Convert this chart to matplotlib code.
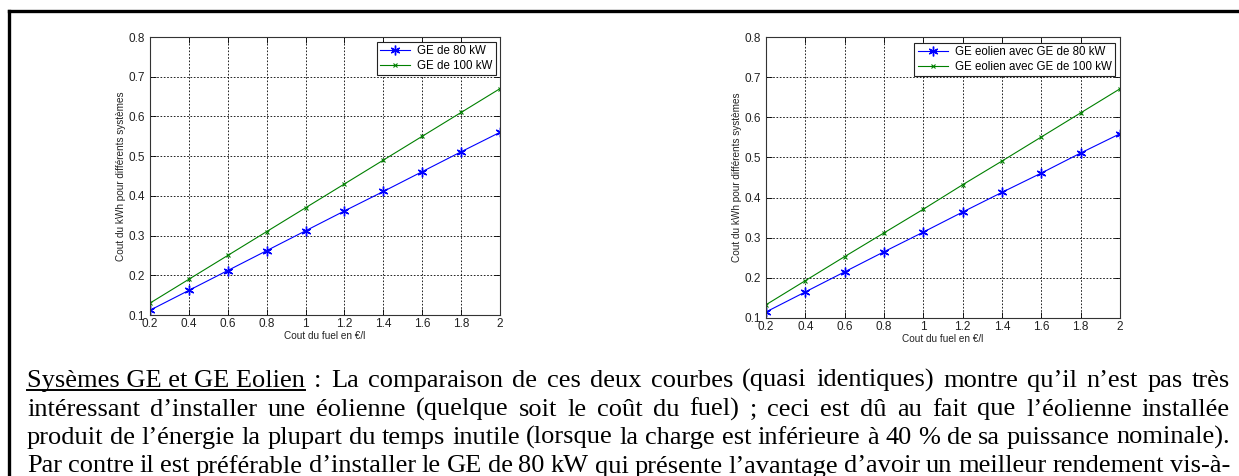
import matplotlib
matplotlib.use("Agg")
import matplotlib.pyplot as plt
from matplotlib.lines import Line2D

# ---- data -------------------------------------------------------------
fuel_cost = [0.2, 0.4, 0.6, 0.8, 1.0, 1.2, 1.4, 1.6, 1.8, 2.0]

ge_80 = [0.112, 0.162, 0.212, 0.262, 0.312, 0.362, 0.411, 0.461, 0.511, 0.560]
ge_100 = [0.130, 0.190, 0.250, 0.310, 0.370, 0.430, 0.490, 0.550, 0.610, 0.670]

eol_80 = [0.115, 0.165, 0.215, 0.265, 0.314, 0.364, 0.413, 0.461, 0.511, 0.559]
eol_100 = [0.133, 0.193, 0.253, 0.312, 0.371, 0.432, 0.491, 0.551, 0.611, 0.671]

x_ticks = [0.2, 0.4, 0.6, 0.8, 1, 1.2, 1.4, 1.6, 1.8, 2]
x_ticklabels = ["0.2", "0.4", "0.6", "0.8", "1", "1.2", "1.4", "1.6", "1.8", "2"]
y_ticks = [0.1, 0.2, 0.3, 0.4, 0.5, 0.6, 0.7, 0.8]
y_ticklabels = ["0.1", "0.2", "0.3", "0.4", "0.5", "0.6", "0.7", "0.8"]

left_labels = ["GE de 80 kW", "GE de 100 kW"]
right_labels = ["GE eolien avec GE de 80 kW", "GE eolien avec GE de 100 kW"]

x_title = "Cout du fuel en €/l"
y_title = "Cout du kWh pour différents systèmes"

para_head = "Sysèmes GE et GE Eolien"
para_lines = [
    ": La comparaison de ces deux courbes (quasi identiques) montre qu’il n’est pas très",
    "intéressant d’installer une éolienne (quelque soit le coût du fuel) ; ceci est dû au fait que l’éolienne installée",
    "produit de l’énergie la plupart du temps inutile (lorsque la charge est inférieure à 40 % de sa puissance nominale).",
    "Par contre il est préférable d’installer le GE de 80 kW qui présente l’avantage d’avoir un meilleur rendement vis-à-",
]

# ---- figure -------------------------------------------------------------
W, H = 1239, 476
DPI = 100
fig = plt.figure(figsize=(W / DPI, H / DPI), dpi=DPI)
fig.patch.set_facecolor("white")

BLUE = (0, 0, 1)
GREEN = (0, 0.5, 0)
SANS = ["Liberation Sans", "DejaVu Sans"]
SERIF = ["Liberation Serif", "DejaVu Serif"]
ASTERISK = (6, 2, 0)


def px_rect(x0, y0, x1, y1):
    return [x0 / W, 1 - y1 / H, (x1 - x0) / W, (y1 - y0) / H]


def make_panel(rect, s80, s100, labels, leg_box):
    ax = fig.add_axes(rect)
    ax.plot(fuel_cost, s80, color=BLUE, lw=0.8, marker=ASTERISK, ms=7,
            mew=1.0, label=labels[0])
    ax.plot(fuel_cost, s100, color=GREEN, lw=0.8, marker="x", ms=3.5,
            mew=0.8, label=labels[1])
    ax.set_xlim(0.2, 2)
    ax.set_ylim(0.1, 0.8)
    ax.set_xticks(x_ticks)
    ax.set_xticklabels(x_ticklabels, family=SANS, fontsize=8.5, color="#222222")
    ax.set_yticks(y_ticks)
    ax.set_yticklabels(y_ticklabels, family=SANS, fontsize=8.5, color="#222222")
    ax.tick_params(direction="in", length=4, width=0.6, top=True, right=True)
    ax.tick_params(axis="x", pad=2.5)
    ax.tick_params(axis="y", pad=3.5)
    ax.grid(True, color="black", linestyle=(0, (2, 2)), linewidth=0.6)
    for sp in ax.spines.values():
        sp.set_linewidth(0.8)
        sp.set_color("#333333")
    ax.set_axisbelow(True)

    hpx = rect[3] * H
    wpx = rect[2] * W
    ax.set_xlabel(x_title, family=SANS, fontsize=7.2, va="center",
                  color="#222222")
    ax.xaxis.set_label_coords(0.5, -21 / hpx)
    ax.set_ylabel(y_title, family=SANS, fontsize=7.2, va="center",
                  color="#222222")
    ax.yaxis.set_label_coords(-29 / wpx, 0.5)

    lx0, ly0, lx1, ly1 = leg_box
    ax_x0 = rect[0] * W
    ax_top = (1 - rect[1] - rect[3]) * H
    anchor = ((lx1 - ax_x0) / wpx, 1 - (ly0 - ax_top) / hpx)
    leg = ax.legend(loc="upper right", bbox_to_anchor=anchor,
                    borderaxespad=0, fancybox=False, framealpha=1,
                    edgecolor="#222222", numpoints=1, handlelength=2.6,
                    handletextpad=0.6, borderpad=0.3, labelspacing=0.2,
                    prop={"family": SANS, "size": 8.3})
    leg.get_frame().set_linewidth(0.8)
    return ax


make_panel(px_rect(150, 37, 500, 315), ge_80, ge_100, left_labels,
           (387, 42, 496, 72))
make_panel(px_rect(766, 37, 1120, 318), eol_80, eol_100, right_labels,
           (932, 43, 1115, 73))

# page frame
fig.add_artist(Line2D([8.5 / W, 1.0], [1 - 10.5 / H, 1 - 10.5 / H],
                      transform=fig.transFigure, color="black", lw=2.4,
                      solid_capstyle="projecting"))
fig.add_artist(Line2D([8.5 / W, 8.5 / W], [1 - 10.5 / H, 0.0],
                      transform=fig.transFigure, color="black", lw=2.4,
                      solid_capstyle="projecting"))

# ---- justified paragraph ------------------------------------------------
FS = 19.0
X0, X1 = 27, 1230
BASE0, LEADING = 387, 28.5

renderer = fig.canvas.get_renderer()


def word_width(s):
    t = fig.text(0, 0, s, family=SERIF, fontsize=FS)
    w = t.get_window_extent(renderer).width
    t.remove()
    return w


for i, line in enumerate(para_lines):
    words = line.split(" ")
    if i == 0:
        words = [para_head] + words
    widths = [word_width(w) for w in words]
    gap = (X1 - X0 - sum(widths)) / (len(words) - 1)
    y = BASE0 + i * LEADING
    x = X0
    for j, (w, ww) in enumerate(zip(words, widths)):
        fig.text(x / W, 1 - y / H, w, family=SERIF, fontsize=FS,
                 ha="left", va="baseline", color="black")
        if i == 0 and j == 0:
            fig.add_artist(Line2D([x / W, (x + ww) / W],
                                  [1 - (y + 3) / H, 1 - (y + 3) / H],
                                  transform=fig.transFigure, color="black",
                                  lw=1.4))
        x += ww + gap

fig.savefig("out.png", dpi=DPI)
